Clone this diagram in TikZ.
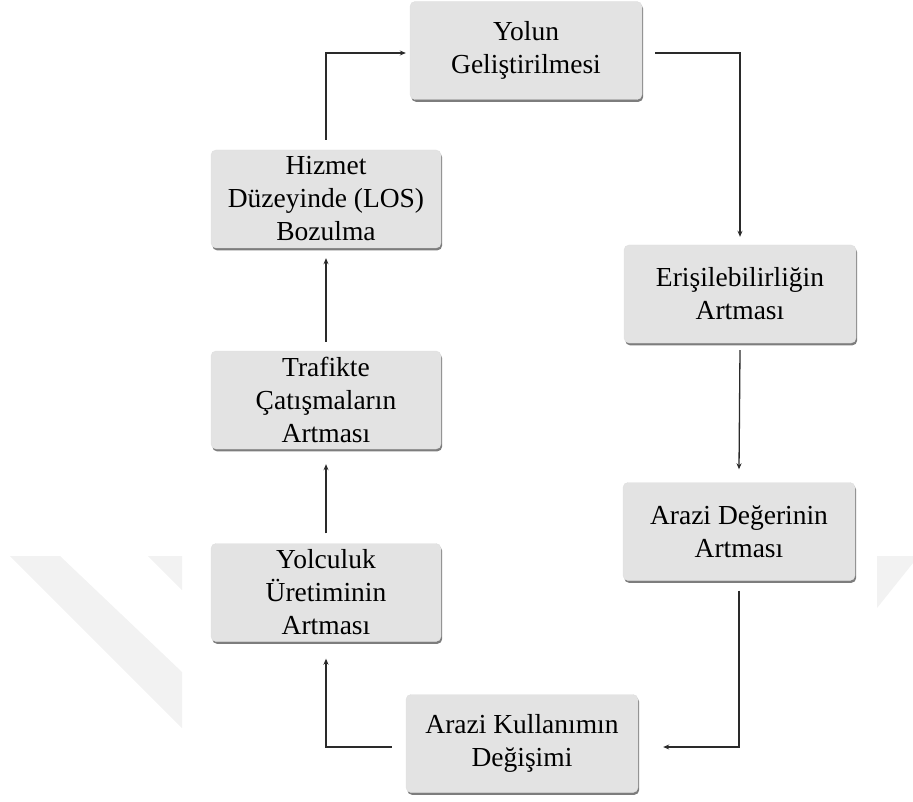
\documentclass[tikz,border=0pt]{standalone}
\usepackage{fontspec}
\setmainfont{Liberation Serif}
\usetikzlibrary{arrows.meta,shadows}

\definecolor{boxfill}{HTML}{E3E3E3}
\definecolor{linecol}{HTML}{2A2A2A}
\definecolor{markgray}{HTML}{F2F2F2}

\tikzset{
  stagebox/.style={
    rectangle, rounded corners=5pt, fill=boxfill, draw=black!12, line width=0.4pt,
    minimum width=232pt, minimum height=98pt, inner sep=0pt,
    align=center, text=black,
    font={\fontsize{27.5}{33}\selectfont},
    drop shadow={shadow xshift=1.2pt, shadow yshift=-2.4pt, fill=black!60, opacity=0.85}
  },
  flow/.style={draw=linecol, line width=1.3pt,
    -{Stealth[length=6pt,width=5pt]}}
}

\begin{document}
\begin{tikzpicture}[x=1pt,y=-1pt]
  \useasboundingbox (0,0) rectangle (913,802);

  % faint background emblem strokes
  \fill[markgray] (10,556) -- (60,556) -- (182,672) -- (182,728) -- cycle;
  \fill[markgray] (148,556) -- (182,556) -- (182,590) -- cycle;
  \fill[markgray] (877,556) -- (913,556) -- (913,563) -- (877,608) -- cycle;

  % stages of the cycle
  \node[stagebox] (yolun)  at (526,50.5)  {Yolun\\Geliştirilmesi};
  \node[stagebox] (eris)   at (740,294)   {Erişilebilirliğin\\Artması};
  \node[stagebox] (deger)  at (739,531.5) {Arazi Değerinin\\Artması};
  \node[stagebox] (kullan) at (522,743.5) {Arazi Kullanımın\\Değişimi};
  \node[stagebox, minimum width=230pt] (yolcu)  at (326,592.5) {Yolculuk\\Üretiminin\\Artması};
  \node[stagebox, minimum width=230pt] (trafik) at (326,400)   {Trafikte\\Çatışmaların\\Artması};
  \node[stagebox, minimum width=230pt] (hizmet) at (326,199)   {Hizmet\\Düzeyinde (LOS)\\Bozulma};

  % connectors
  \draw[flow] ([xshift=13pt,yshift=-2.5pt]yolun.east) -| ([yshift=8pt]eris.north);
  \draw[flow] ([yshift=-7pt]eris.south) -- ([yshift=13pt]deger.north);
  \draw[flow] ([yshift=-10pt]deger.south) |- ([xshift=25pt,yshift=-3.5pt]kullan.east);
  \draw[flow] ([xshift=-14pt,yshift=-3.5pt]kullan.west) -| ([yshift=-17pt]yolcu.south);
  \draw[flow] ([yshift=10pt]yolcu.north) -- ([yshift=-15pt]trafik.south);
  \draw[flow] ([yshift=9pt]trafik.north) -- ([yshift=-10pt]hizmet.south);
  \draw[flow] ([yshift=10pt]hizmet.north) |- ([xshift=-4pt,yshift=-2.5pt]yolun.west);
\end{tikzpicture}
\end{document}
